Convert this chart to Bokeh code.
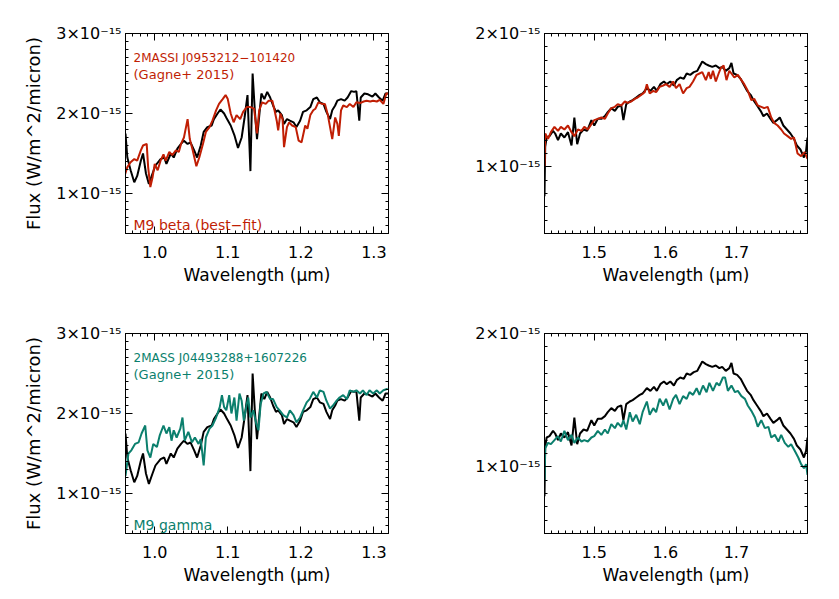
import numpy as np
from bokeh.plotting import figure
from bokeh.models import (Range1d, FixedTicker, LinearAxis, NumeralTickFormatter, Label,
                          CustomLabelingPolicy)
from bokeh.layouts import column, row
from bokeh.embed import file_html
from bokeh.resources import INLINE

# ---------------- data (flux in units of 1e-15 W/m^2/micron) ----------------
# J band: target (black)
j_black_x = [0.960, 0.9625, 0.967, 0.972, 0.976, 0.981, 0.984, 0.988, 0.992, 0.997,
             1.001, 1.008, 1.013, 1.016, 1.022, 1.026, 1.031, 1.036, 1.040, 1.045,
             1.049, 1.054, 1.058, 1.063, 1.067, 1.072, 1.078, 1.081, 1.086, 1.090,
             1.095, 1.099, 1.104, 1.109, 1.114, 1.119, 1.123, 1.127, 1.131, 1.134,
             1.137, 1.140, 1.146, 1.150, 1.154, 1.158, 1.162, 1.166, 1.169, 1.174,
             1.177, 1.181, 1.185, 1.190, 1.194, 1.199, 1.203, 1.208, 1.213, 1.217,
             1.222, 1.226, 1.231, 1.235, 1.240, 1.243, 1.247, 1.250, 1.255, 1.260,
             1.264, 1.269, 1.273, 1.276, 1.280, 1.282, 1.287, 1.292, 1.298, 1.302,
             1.307, 1.312, 1.316, 1.320]
j_black_y = [1.75, 1.45, 1.29, 1.14, 1.22, 1.41, 1.50, 1.25, 1.12, 1.25,
             1.35, 1.43, 1.45, 1.37, 1.50, 1.45, 1.56, 1.62, 1.66, 1.62,
             1.64, 1.54, 1.45, 1.60, 1.77, 1.83, 1.85, 1.93, 2.00, 2.05,
             2.00, 1.93, 1.85, 1.73, 1.57, 1.70, 1.95, 2.23, 1.28, 2.50,
             2.04, 1.68, 2.25, 2.18, 2.27, 2.20, 2.10, 2.02, 2.04, 1.98,
             1.87, 1.93, 1.91, 1.89, 1.83, 1.91, 2.02, 2.04, 2.08, 2.18,
             2.20, 2.14, 2.12, 2.02, 1.93, 2.04, 2.10, 2.16, 2.18, 2.16,
             2.20, 2.28, 2.27, 2.28, 1.91, 2.20, 2.25, 2.24, 2.21, 2.25,
             2.20, 2.16, 2.25, 2.25]

# J band: M9 beta template (red)
j_red_x = [0.959, 0.9625, 0.967, 0.972, 0.976, 0.981, 0.984, 0.989, 0.991, 0.994,
           0.997, 1.000, 1.004, 1.008, 1.012, 1.015, 1.020, 1.024, 1.029, 1.033,
           1.036, 1.040, 1.045, 1.048, 1.052, 1.057, 1.061, 1.066, 1.070, 1.075,
           1.079, 1.084, 1.088, 1.093, 1.097, 1.100, 1.104, 1.108, 1.112, 1.117,
           1.121, 1.126, 1.131, 1.136, 1.140, 1.143, 1.147, 1.152, 1.156, 1.161,
           1.164, 1.167, 1.169, 1.172, 1.175, 1.177, 1.181, 1.184, 1.188, 1.193,
           1.197, 1.201, 1.206, 1.209, 1.213, 1.217, 1.220, 1.224, 1.229, 1.233,
           1.237, 1.240, 1.243, 1.247, 1.250, 1.252, 1.255, 1.258, 1.263, 1.267,
           1.272, 1.276, 1.281, 1.286, 1.290, 1.295, 1.299, 1.304, 1.308, 1.313,
           1.317, 1.320]
j_red_y = [1.23, 1.33, 1.39, 1.43, 1.41, 1.54, 1.60, 1.62, 1.33, 1.08,
           1.20, 1.37, 1.29, 1.41, 1.49, 1.41, 1.52, 1.48, 1.54, 1.52,
           1.62, 1.70, 1.93, 1.68, 1.54, 1.34, 1.45, 1.62, 1.77, 1.83,
           1.91, 2.04, 2.12, 2.18, 2.23, 2.18, 2.00, 1.89, 1.98, 1.93,
           2.02, 2.08, 2.08, 2.06, 1.75, 2.04, 2.14, 2.12, 2.16, 2.16,
           2.04, 1.91, 1.79, 2.00, 1.93, 1.58, 1.83, 1.89, 1.85, 1.83,
           1.66, 1.64, 1.85, 1.81, 1.98, 2.04, 2.06, 2.14, 2.12, 2.12,
           1.98, 1.83, 1.68, 1.95, 1.87, 1.72, 2.04, 2.10, 2.08, 2.12,
           2.08, 2.14, 2.13, 2.15, 2.16, 2.15, 2.16, 2.15, 2.17, 2.12,
           2.25, 2.25]

# J band: M9 gamma template (teal)
j_teal_x = [0.960, 0.964, 0.968, 0.973, 0.978, 0.982, 0.987, 0.990, 0.994, 0.998,
            1.003, 1.007, 1.012, 1.016, 1.020, 1.023, 1.026, 1.030, 1.035, 1.038,
            1.041, 1.046, 1.051, 1.055, 1.060, 1.063, 1.067, 1.070, 1.075, 1.079,
            1.084, 1.089, 1.092, 1.095, 1.098, 1.102, 1.105, 1.109, 1.112, 1.116,
            1.119, 1.122, 1.126, 1.128, 1.131, 1.135, 1.139, 1.142, 1.145, 1.149,
            1.153, 1.158, 1.162, 1.167, 1.171, 1.176, 1.181, 1.185, 1.190, 1.194,
            1.199, 1.203, 1.208, 1.212, 1.217, 1.222, 1.226, 1.231, 1.235, 1.240,
            1.244, 1.249, 1.253, 1.258, 1.263, 1.267, 1.272, 1.276, 1.281, 1.285,
            1.290, 1.294, 1.299, 1.304, 1.308, 1.313, 1.319]
j_teal_y = [1.22, 1.50, 1.54, 1.62, 1.64, 1.75, 1.85, 1.54, 1.45, 1.62,
            1.58, 1.73, 1.85, 1.75, 1.83, 1.66, 1.79, 1.70, 1.81, 1.95,
            1.66, 1.77, 1.64, 1.70, 1.62, 1.68, 1.35, 1.70, 1.81, 1.85,
            1.95, 2.08, 2.23, 2.08, 2.04, 2.23, 2.00, 2.20, 1.91, 2.25,
            2.16, 1.91, 2.12, 2.20, 1.95, 2.04, 1.87, 1.79, 2.12, 2.25,
            2.27, 2.18, 2.18, 2.08, 2.04, 1.98, 1.95, 2.04, 1.98, 1.89,
            1.95, 2.04, 2.14, 2.18, 2.27, 2.20, 2.29, 2.27, 2.16, 2.06,
            2.10, 2.16, 2.20, 2.23, 2.18, 2.29, 2.27, 2.29, 2.25, 2.29,
            2.23, 2.29, 2.25, 2.29, 2.25, 2.29, 2.31]

# H band: target (black)
h_black_x = [1.430, 1.431, 1.433, 1.437, 1.442, 1.445, 1.449, 1.453, 1.458, 1.463,
             1.468, 1.472, 1.476, 1.480, 1.485, 1.490, 1.496, 1.500, 1.505, 1.510,
             1.515, 1.519, 1.524, 1.529, 1.533, 1.538, 1.541, 1.545, 1.550, 1.554,
             1.559, 1.564, 1.568, 1.574, 1.579, 1.584, 1.588, 1.593, 1.598, 1.602,
             1.607, 1.612, 1.616, 1.621, 1.626, 1.630, 1.635, 1.640, 1.645, 1.648,
             1.652, 1.657, 1.661, 1.666, 1.671, 1.676, 1.680, 1.685, 1.690, 1.693,
             1.696, 1.701, 1.706, 1.710, 1.715, 1.720, 1.724, 1.729, 1.734, 1.738,
             1.743, 1.748, 1.752, 1.757, 1.761, 1.766, 1.771, 1.776, 1.781, 1.785,
             1.790, 1.795, 1.798, 1.800]
h_black_y = [0.78, 1.15, 1.22, 1.23, 1.27, 1.25, 1.20, 1.25, 1.22, 1.26,
             1.16, 1.37, 1.17, 1.25, 1.28, 1.27, 1.35, 1.31, 1.36, 1.36,
             1.38, 1.41, 1.44, 1.42, 1.45, 1.46, 1.35, 1.47, 1.49, 1.50,
             1.52, 1.54, 1.55, 1.59, 1.57, 1.60, 1.57, 1.62, 1.64, 1.62,
             1.64, 1.61, 1.65, 1.67, 1.66, 1.70, 1.69, 1.71, 1.72, 1.75,
             1.79, 1.77, 1.76, 1.75, 1.76, 1.74, 1.75, 1.72, 1.74, 1.78,
             1.70, 1.69, 1.66, 1.62, 1.57, 1.54, 1.50, 1.46, 1.42, 1.38,
             1.40, 1.36, 1.33, 1.35, 1.37, 1.31, 1.28, 1.25, 1.21, 1.16,
             1.13, 1.07, 1.12, 1.22]

# H band: M9 beta template (red)
h_red_x = [1.430, 1.431, 1.435, 1.439, 1.444, 1.449, 1.453, 1.458, 1.463, 1.468,
           1.472, 1.477, 1.482, 1.486, 1.491, 1.496, 1.500, 1.505, 1.510, 1.515,
           1.519, 1.524, 1.529, 1.533, 1.538, 1.543, 1.547, 1.552, 1.557, 1.561,
           1.566, 1.571, 1.574, 1.578, 1.583, 1.587, 1.592, 1.597, 1.601, 1.606,
           1.611, 1.615, 1.620, 1.625, 1.630, 1.634, 1.639, 1.644, 1.648, 1.652,
           1.657, 1.661, 1.664, 1.667, 1.671, 1.675, 1.678, 1.682, 1.686, 1.690,
           1.693, 1.697, 1.702, 1.707, 1.711, 1.716, 1.721, 1.725, 1.730, 1.735,
           1.739, 1.744, 1.749, 1.753, 1.758, 1.763, 1.767, 1.772, 1.777, 1.781,
           1.786, 1.791, 1.796, 1.800]
h_red_y = [1.00, 1.25, 1.21, 1.26, 1.30, 1.27, 1.30, 1.28, 1.31, 1.26,
           1.23, 1.28, 1.27, 1.30, 1.28, 1.32, 1.35, 1.36, 1.37, 1.36,
           1.40, 1.44, 1.45, 1.47, 1.46, 1.49, 1.48, 1.49, 1.51, 1.52,
           1.54, 1.56, 1.62, 1.55, 1.57, 1.56, 1.60, 1.61, 1.62, 1.60,
           1.64, 1.59, 1.62, 1.55, 1.59, 1.60, 1.64, 1.69, 1.70, 1.71,
           1.65, 1.71, 1.66, 1.72, 1.64, 1.70, 1.74, 1.76, 1.65, 1.72,
           1.70, 1.67, 1.69, 1.65, 1.62, 1.57, 1.50, 1.51, 1.46, 1.45,
           1.44, 1.45, 1.37, 1.33, 1.31, 1.28, 1.25, 1.23, 1.21, 1.22,
           1.10, 1.08, 1.11, 1.06]

# H band: M9 gamma template (teal)
h_teal_x = [1.430, 1.431, 1.435, 1.439, 1.444, 1.449, 1.453, 1.458, 1.463, 1.468,
            1.472, 1.477, 1.482, 1.486, 1.491, 1.496, 1.500, 1.505, 1.510, 1.515,
            1.519, 1.524, 1.529, 1.533, 1.538, 1.541, 1.545, 1.550, 1.554, 1.559,
            1.564, 1.568, 1.574, 1.578, 1.583, 1.587, 1.592, 1.597, 1.601, 1.606,
            1.611, 1.615, 1.620, 1.625, 1.630, 1.634, 1.639, 1.644, 1.648, 1.653,
            1.658, 1.662, 1.667, 1.672, 1.676, 1.681, 1.684, 1.688, 1.693, 1.698,
            1.702, 1.707, 1.712, 1.716, 1.721, 1.726, 1.730, 1.735, 1.740, 1.745,
            1.749, 1.754, 1.759, 1.763, 1.768, 1.773, 1.777, 1.782, 1.787, 1.791,
            1.795, 1.798, 1.800]
h_teal_y = [0.89, 1.14, 1.18, 1.17, 1.20, 1.23, 1.19, 1.27, 1.20, 1.24,
            1.18, 1.22, 1.19, 1.20, 1.19, 1.22, 1.23, 1.27, 1.24, 1.28,
            1.25, 1.32, 1.29, 1.33, 1.30, 1.35, 1.28, 1.41, 1.34, 1.39,
            1.32, 1.41, 1.49, 1.39, 1.44, 1.41, 1.51, 1.46, 1.51, 1.43,
            1.51, 1.54, 1.47, 1.53, 1.51, 1.56, 1.54, 1.59, 1.54, 1.61,
            1.56, 1.63, 1.57, 1.63, 1.61, 1.67, 1.67, 1.57, 1.61, 1.56,
            1.57, 1.53, 1.51, 1.46, 1.42, 1.37, 1.30, 1.35, 1.29, 1.30,
            1.22, 1.24, 1.19, 1.24, 1.18, 1.15, 1.17, 1.12, 1.07, 1.02,
            0.99, 1.02, 0.94]

j_xticks = [1.0, 1.1, 1.2, 1.3]
h_xticks = [1.5, 1.6, 1.7]
j_yticks = [1, 2, 3]
h_yticks = [1, 2]
ytick_labels = {1: "1×10⁻¹⁵", 2: "2×10⁻¹⁵", 3: "3×10⁻¹⁵"}

RED = "#c01e04"
TEAL = "#0b7f6d"
FONT = "DejaVu Sans"

NO_LABELS = CustomLabelingPolicy(code="""
    for (const i of indices) { indices.unset(i) }
    return indices
""")


def make_panel(xr, yr, xticks, yticks, borders, ylabel):
    left, right, top, bottom = borders
    p = figure(x_range=Range1d(*xr), y_range=Range1d(*yr),
               frame_width=263, frame_height=200,
               output_backend="svg", toolbar_location=None,
               min_border_left=left, min_border_right=right,
               min_border_top=top, min_border_bottom=bottom,
               background_fill_color="white", border_fill_color="white")
    p.grid.visible = False
    p.outline_line_color = "black"
    p.outline_line_width = 1
    xminor = list(np.round(np.arange(xr[0], xr[1] + 1e-6, 0.01), 3))
    yminor = list(np.round(np.arange(yr[0], yr[1] + 1e-6, 0.1), 2))
    xt = FixedTicker(ticks=xticks, minor_ticks=xminor)
    yt = FixedTicker(ticks=yticks, minor_ticks=yminor)

    def style(ax):
        ax.major_tick_in = 7
        ax.major_tick_out = 0
        ax.minor_tick_in = 3
        ax.minor_tick_out = 0
        ax.axis_line_color = "black"
        ax.major_tick_line_color = "black"
        ax.minor_tick_line_color = "black"
        ax.major_label_text_font = FONT
        ax.major_label_text_font_size = "16px"
        ax.major_label_text_color = "black"
        ax.axis_label_text_font = FONT
        ax.axis_label_text_font_style = "normal"
        ax.axis_label_text_font_size = "17px"
        ax.axis_label_text_color = "black"

    xa = p.xaxis[0]
    xa.ticker = xt
    xa.formatter = NumeralTickFormatter(format="0.0")
    xa.axis_label = "Wavelength (μm)"
    style(xa)
    xa.major_label_standoff = 12
    xa.axis_label_standoff = 4

    ya = p.yaxis[0]
    ya.ticker = yt
    ya.major_label_overrides = {k: ytick_labels[k] for k in yticks}
    style(ya)
    ya.major_label_standoff = 4
    if ylabel:
        ya.axis_label = "Flux (W/m^2/micron)"
        ya.axis_label_text_font_size = "18px"
        ya.axis_label_standoff = 9

    for loc, tk in (("right", yt), ("above", xt)):
        ax = LinearAxis(ticker=tk, major_label_policy=NO_LABELS)
        style(ax)
        ax.major_label_text_font_size = "1px"
        ax.major_label_standoff = 0
        p.add_layout(ax, loc)
    return p


def add_text(p, x, y, txt, color, size):
    p.add_layout(Label(x=x, y=y, text=txt, text_color=color, text_font=FONT,
                       text_font_size=size, text_baseline="alphabetic",
                       text_align="left"))


J_RANGE = (0.96, 1.32)
H_RANGE = (1.43, 1.80)

p1 = make_panel(J_RANGE, (0.5, 3.0), j_xticks, j_yticks, (125, 34, 33, 62), True)
p1.line(j_black_x, j_black_y, line_color="black", line_width=2)
p1.line(j_red_x, j_red_y, line_color=RED, line_width=2)
add_text(p1, 0.971, 2.70, "2MASSI J0953212−101420", RED, "12px")
add_text(p1, 0.971, 2.49, "(Gagne+ 2015)", RED, "13px")
add_text(p1, 0.971, 0.61, "M9 beta (best−fit)", RED, "14px")

p2 = make_panel(H_RANGE, (0.5, 2.0), h_xticks, h_yticks, (122, 10, 33, 62), False)
p2.line(h_black_x, h_black_y, line_color="black", line_width=2)
p2.line(h_red_x, h_red_y, line_color=RED, line_width=2)

p3 = make_panel(J_RANGE, (0.5, 3.0), j_xticks, j_yticks, (125, 34, 38, 52), True)
p3.line(j_black_x, j_black_y, line_color="black", line_width=2)
p3.line(j_teal_x, j_teal_y, line_color=TEAL, line_width=2)
add_text(p3, 0.971, 2.70, "2MASS J04493288+1607226", TEAL, "12px")
add_text(p3, 0.971, 2.49, "(Gagne+ 2015)", TEAL, "13px")
add_text(p3, 0.971, 0.61, "M9 gamma", TEAL, "14px")

p4 = make_panel(H_RANGE, (0.5, 2.0), h_xticks, h_yticks, (122, 10, 38, 52), False)
p4.line(h_black_x, h_black_y, line_color="black", line_width=2)
p4.line(h_teal_x, h_teal_y, line_color=TEAL, line_width=2)

layout = column(row(p1, p2), row(p3, p4))
open("out.html", "w").write(file_html(layout, INLINE))
